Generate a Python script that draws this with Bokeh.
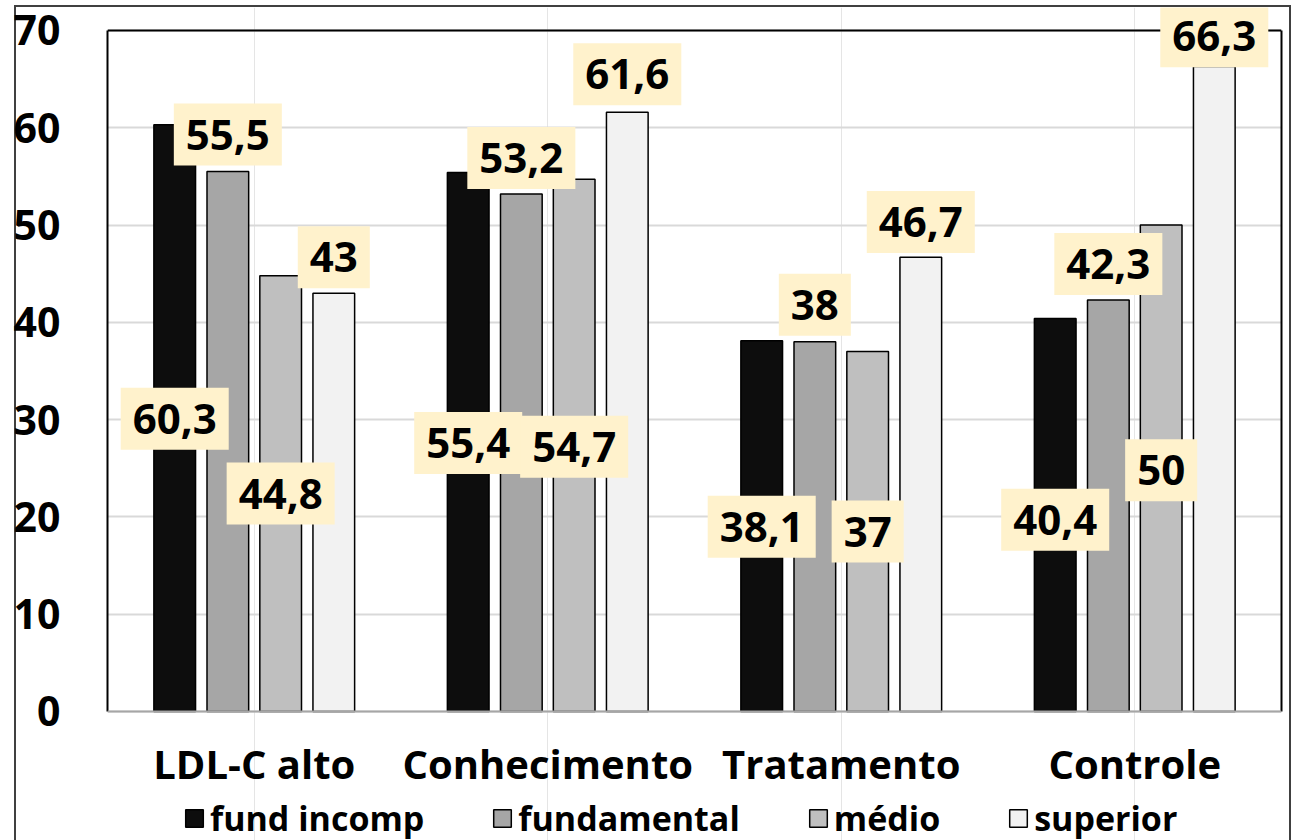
from bokeh.plotting import figure
from bokeh.models import (FactorRange, Range1d, Label, Legend, LegendItem, FixedTicker,
                          LinearAxis, Span)
from bokeh.transform import dodge
from bokeh.core.properties import value
from bokeh.embed import file_html
from bokeh.resources import INLINE

categories = ["LDL-C alto", "Conhecimento", "Tratamento", "Controle"]
series_names = ["fund incomp", "fundamental", "médio", "superior"]
fund_incomp = [60.3, 55.4, 38.1, 40.4]
fundamental = [55.5, 53.2, 38.0, 42.3]
medio = [44.8, 54.7, 37.0, 50.0]
superior = [43.0, 61.6, 46.7, 66.3]
y_ticks = [0, 10, 20, 30, 40, 50, 60, 70]

# where each value box sits (box centre, in axis units)
label_y_fund_incomp = [30.1, 27.6, 19.0, 19.7]
label_y_fundamental = [59.3, 56.9, 41.8, 46.0]
label_y_medio = [22.4, 27.2, 18.5, 24.8]
label_y_superior = [46.7, 65.5, 50.3, 69.4]

series_values = [fund_incomp, fundamental, medio, superior]
label_ys = [label_y_fund_incomp, label_y_fundamental, label_y_medio, label_y_superior]
colors = ["#0D0D0D", "#A6A6A6", "#BFBFBF", "#F2F2F2"]
offsets = [-0.271, -0.09, 0.09, 0.271]
bar_w = 0.142
FONT = "Open Sans"
Y_MIN, Y_MAX = 0, 70
CAT_LABEL_Y = -5.35          # category names sit below the baseline
VIEW_LOW, VIEW_HIGH = -13.26, 72.36   # room for category names / top value box

BORDER = "#404040"
outer_border = ", ".join([
    "inset 0 5px 0 0 #ffffff",
    "inset 14px 0 0 0 #ffffff",
    f"inset 0 7px 0 0 {BORDER}",
    f"inset 16px 0 0 0 {BORDER}",
    f"inset -2px 0 0 0 {BORDER}",
])

p = figure(
    x_range=FactorRange(factors=categories, range_padding=0),
    y_range=Range1d(VIEW_LOW, VIEW_HIGH),
    x_axis_location=None,
    frame_width=1174, frame_height=833,
    output_backend="svg", toolbar_location=None,
    min_border_left=107, min_border_right=10, min_border_top=7, min_border_bottom=0,
    border_fill_color=None, background_fill_color="white",
    styles={"box-shadow": outer_border},
)
p.outline_line_color = None

p.yaxis.ticker = FixedTicker(ticks=y_ticks)
p.yaxis.bounds = (Y_MIN, Y_MAX)
p.yaxis.axis_line_color = "black"
p.yaxis.axis_line_width = 2
p.yaxis.major_tick_line_color = None
p.yaxis.minor_tick_line_color = None
p.yaxis.major_label_text_font = FONT
p.yaxis.major_label_text_font_style = "bold"
p.yaxis.major_label_text_font_size = "41px"
p.yaxis.major_label_text_color = "black"
p.yaxis.major_label_standoff = 41

right_axis = LinearAxis(ticker=FixedTicker(ticks=[]), bounds=(Y_MIN, Y_MAX),
                        axis_line_color="black", axis_line_width=2,
                        major_tick_line_color=None, minor_tick_line_color=None)
p.add_layout(right_axis, "right")

p.ygrid.grid_line_color = "#D9D9D9"
p.ygrid.grid_line_width = 2
p.ygrid.bounds = (Y_MIN, Y_MAX)

p.add_layout(Span(location=Y_MAX, dimension="width", line_color="black", line_width=2))
p.add_layout(Span(location=Y_MIN, dimension="width", line_color="#A6A6A6", line_width=2))

renderers = []
for name, vals, col, off in zip(series_names, series_values, colors, offsets):
    src = dict(cat=categories, val=vals)
    r = p.vbar(x=dodge("cat", off, range=p.x_range), top="val", bottom=0, width=bar_w,
               source=src, fill_color=col, line_color="black", line_width=1.5)
    renderers.append(r)

for vals, lys, off in zip(series_values, label_ys, offsets):
    for i, (v, ly) in enumerate(zip(vals, lys)):
        txt = f"{v:g}".replace(".", ",")
        lab = Label(x=i + 0.5 + off, y=ly, text=txt,
                    text_font=FONT, text_font_style="bold", text_font_size="42px",
                    text_color="black", text_align="center", text_baseline="middle",
                    background_fill_color="#FFF2CC", padding=(12, 16))
        p.add_layout(lab)

p.text(x=categories, y=[CAT_LABEL_Y] * len(categories), text=categories,
       text_font=value(FONT), text_font_style="bold", text_font_size="40px",
       text_color="black", text_align="center", text_baseline="middle")

legend = Legend(
    items=[LegendItem(label=n, renderers=[r]) for n, r in zip(series_names, renderers)],
    orientation="horizontal", location=(76, -1),
    label_text_font=FONT, label_text_font_style="bold", label_text_font_size="34px",
    label_text_color="black",
    glyph_width=22, glyph_height=22, label_standoff=5, spacing=67,
    border_line_color=None, background_fill_alpha=0, margin=0, padding=0,
)
p.add_layout(legend, "center")

open("out.html", "w").write(file_html(p, INLINE))
